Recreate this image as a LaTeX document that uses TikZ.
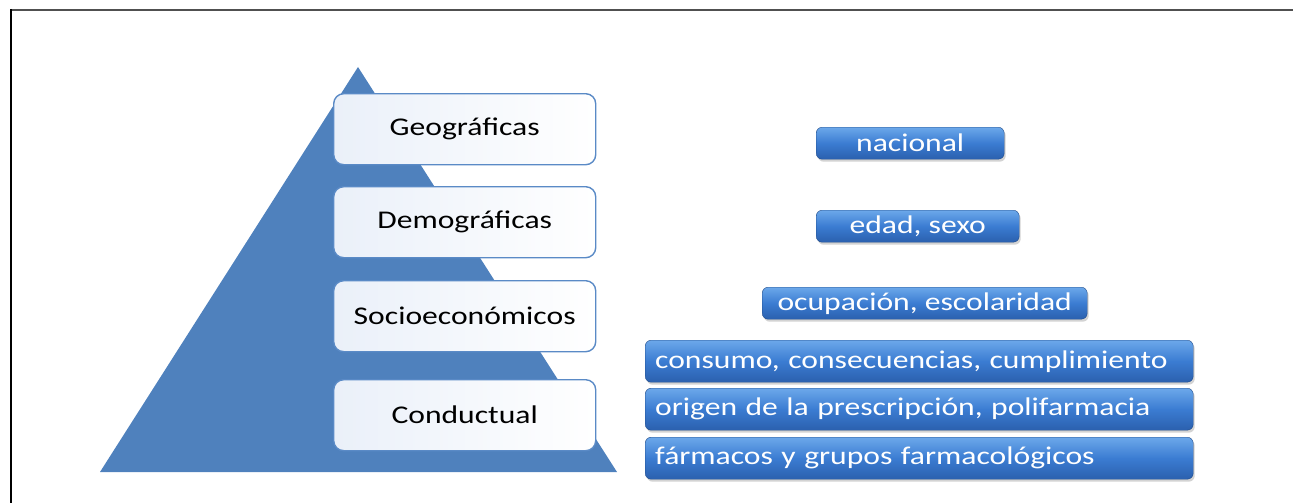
\documentclass[tikz,border=0pt]{standalone}
\usepackage{fontspec}
\setmainfont{Carlito}[FakeStretch=1.24]
\usetikzlibrary{shadows}
\definecolor{tri}{HTML}{4F81BD}
\definecolor{boxline}{HTML}{5A8AC6}
\definecolor{boxleft}{HTML}{EAF0F9}
\definecolor{btop}{HTML}{6CA8EA}
\definecolor{bmid}{HTML}{3B7CD2}
\definecolor{bbot}{HTML}{2B60AE}
\definecolor{frame}{HTML}{505050}
\begin{document}
\begin{tikzpicture}[x=1pt,y=-1pt,
  level/.style={draw=boxline, line width=1.4pt, rounded corners=10pt,
    left color=boxleft, right color=white, minimum width=262pt,
    minimum height=71pt, anchor=north west, inner sep=0pt,
    font=\fontsize{25.5}{29}\selectfont, text=black},
  tag/.style={draw=bbot!80!black, line width=0.4pt, rounded corners=6pt,
    top color=btop, bottom color=bbot, middle color=bmid,
    drop shadow={opacity=0.35, shadow xshift=1.5pt, shadow yshift=-2.5pt},
    text=white, font=\fontsize{25.5}{29}\selectfont, anchor=north west,
    inner sep=0pt},
  wide/.style={tag, minimum width=548pt, minimum height=42pt,
    text width=528pt, inner xsep=10pt, align=left}]
\useasboundingbox (0,0) rectangle (1293,503);
% frame
\draw[frame, line width=2pt] (11,10) -- (1293,10);
\draw[black, line width=2pt] (11,9) -- (11,503);
% pyramid
\coordinate (apex) at (358,67);
\coordinate (br) at (617,472);
\coordinate (bl) at (100,472);
\fill[tri] (apex) -- (br) -- (bl) -- cycle;
% level boxes
\node[level] (geo) at (333,93) {Geográficas};
\node[level] (dem) at (333,186) {Demográficas};
\node[level] (soc) at (333,280) {Socioeconómicos};
\node[level] (con) at (333,379) {Conductual};
% tags
\node[tag, minimum width=188pt, minimum height=32pt] (nac) at (816,127) {nacional};
\node[tag, minimum width=203pt, minimum height=32pt] (eda) at (816,210) {edad, sexo};
\node[tag, minimum width=325pt, minimum height=32pt] (ocu) at (762,287) {ocupación, escolaridad};
\node[wide] (cns) at (645,340) {consumo, consecuencias, cumplimiento};
\node[wide] (ori) at (645,388) {origen de la prescripción, polifarmacia};
\node[wide] (far) at (645,437) {fármacos y grupos farmacológicos};
\end{tikzpicture}
\end{document}
